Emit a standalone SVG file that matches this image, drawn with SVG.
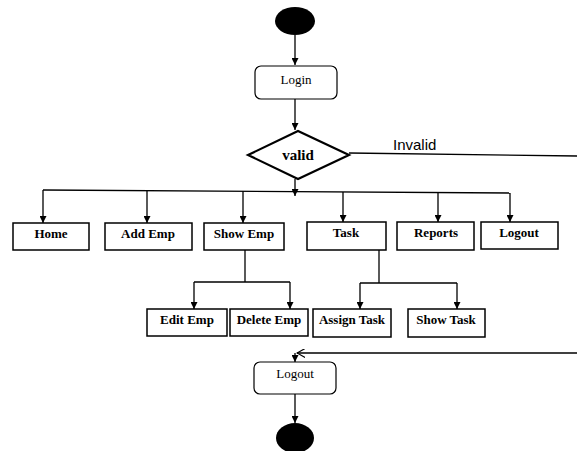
<svg xmlns="http://www.w3.org/2000/svg" width="577" height="451" viewBox="0 0 577 451">
<style>
.ln{stroke:#000;stroke-width:1.3;fill:none}
.bx{fill:#fff;stroke:#000;stroke-width:1.5}
.rb{fill:#fff;stroke:#000;stroke-width:1.2}
.t{font-family:"Liberation Serif",serif;font-size:13px;font-weight:bold;text-anchor:middle;fill:#000}
.tn{font-family:"Liberation Serif",serif;font-size:13px;text-anchor:middle;fill:#000}
</style>
<defs>
<marker id="ah" viewBox="0 0 10 10" refX="10" refY="5" markerWidth="7" markerHeight="7" orient="auto" markerUnits="userSpaceOnUse"><path d="M0,0 L10,5 L0,10 z" fill="#000"/></marker>
<marker id="oh" viewBox="0 0 10 10" refX="9" refY="5" markerWidth="9" markerHeight="9" orient="auto" markerUnits="userSpaceOnUse"><path d="M0,0 L9,5 L0,10" fill="none" stroke="#000" stroke-width="1.3"/></marker>
</defs>
<rect width="577" height="451" fill="#fff"/>
<g id="connectors">
<line class="ln" x1="295" y1="35" x2="295" y2="65" marker-end="url(#ah)"/>
<line class="ln" x1="295" y1="99" x2="295" y2="130" marker-end="url(#ah)"/>
<line class="ln" x1="349" y1="153" x2="577" y2="156"/>
<line class="ln" x1="295" y1="179" x2="295" y2="196" marker-end="url(#ah)"/>
<line class="ln" x1="43" y1="190" x2="510" y2="193"/>
<line class="ln" x1="43" y1="190" x2="43" y2="223" marker-end="url(#ah)"/>
<line class="ln" x1="147" y1="191" x2="147" y2="223" marker-end="url(#ah)"/>
<line class="ln" x1="243" y1="191" x2="243" y2="223" marker-end="url(#ah)"/>
<line class="ln" x1="343" y1="192" x2="343" y2="222" marker-end="url(#ah)"/>
<line class="ln" x1="438" y1="192" x2="438" y2="222" marker-end="url(#ah)"/>
<line class="ln" x1="510" y1="193" x2="510" y2="222" marker-end="url(#ah)"/>
<polyline class="ln" points="245,250 245,282"/>
<line class="ln" x1="194" y1="282" x2="290" y2="282"/>
<line class="ln" x1="194" y1="282" x2="194" y2="309" marker-end="url(#ah)"/>
<line class="ln" x1="290" y1="282" x2="290" y2="309" marker-end="url(#ah)"/>
<polyline class="ln" points="379,250 379,283"/>
<line class="ln" x1="360" y1="283" x2="457" y2="283"/>
<line class="ln" x1="360" y1="283" x2="360" y2="309" marker-end="url(#ah)"/>
<line class="ln" x1="457" y1="283" x2="457" y2="309" marker-end="url(#ah)"/>
<line class="ln" x1="577" y1="353" x2="297" y2="353" marker-end="url(#oh)"/>
<line class="ln" x1="295" y1="353" x2="295" y2="362" marker-end="url(#ah)"/>
<line class="ln" x1="295" y1="394" x2="295" y2="423" marker-end="url(#ah)"/>
</g>
<g id="start"><ellipse cx="295" cy="21" rx="20" ry="14" fill="#000"/></g>
<g id="login"><rect class="rb" x="255" y="66" width="82" height="33" rx="6"/><text class="tn" x="296" y="84">Login</text></g>
<g id="valid"><polygon points="248,155 298,131 349,155 298,179" fill="#fff" stroke="#000" stroke-width="2.2"/><text class="t" x="298" y="160" style="font-size:15px">valid</text></g>
<g id="invalid-label"><text x="393" y="150" style="font-family:'Liberation Sans',sans-serif;font-size:15px;fill:#000">Invalid</text></g>
<g id="home"><rect class="bx" x="13" y="223" width="76" height="27"/><text class="t" x="51" y="238">Home</text></g>
<g id="addemp"><rect class="bx" x="105" y="223" width="87" height="27"/><text class="t" x="148" y="238">Add Emp</text></g>
<g id="showemp"><rect class="bx" x="204" y="223" width="80" height="27"/><text class="t" x="244" y="238">Show Emp</text></g>
<g id="task"><rect class="bx" x="307" y="222" width="79" height="28"/><text class="t" x="346" y="237">Task</text></g>
<g id="reports"><rect class="bx" x="397" y="222" width="77" height="28"/><text class="t" x="436" y="237">Reports</text></g>
<g id="logout1"><rect class="bx" x="481" y="222" width="77" height="27"/><text class="t" x="519" y="237">Logout</text></g>
<g id="editemp"><rect class="bx" x="147" y="309" width="80" height="27"/><text class="t" x="187" y="324">Edit Emp</text></g>
<g id="deleteemp"><rect class="bx" x="230" y="309" width="78" height="27"/><text class="t" x="269" y="324">Delete Emp</text></g>
<g id="assigntask"><rect class="bx" x="313" y="309" width="78" height="28"/><text class="t" x="352" y="324">Assign Task</text></g>
<g id="showtask"><rect class="bx" x="408" y="309" width="77" height="28"/><text class="t" x="446" y="324">Show Task</text></g>
<g id="logout2"><rect class="rb" x="254" y="362" width="82" height="32" rx="6"/><text class="tn" x="295" y="378">Logout</text></g>
<g id="end"><ellipse cx="295" cy="438" rx="19" ry="15" fill="#000"/></g>
</svg>
